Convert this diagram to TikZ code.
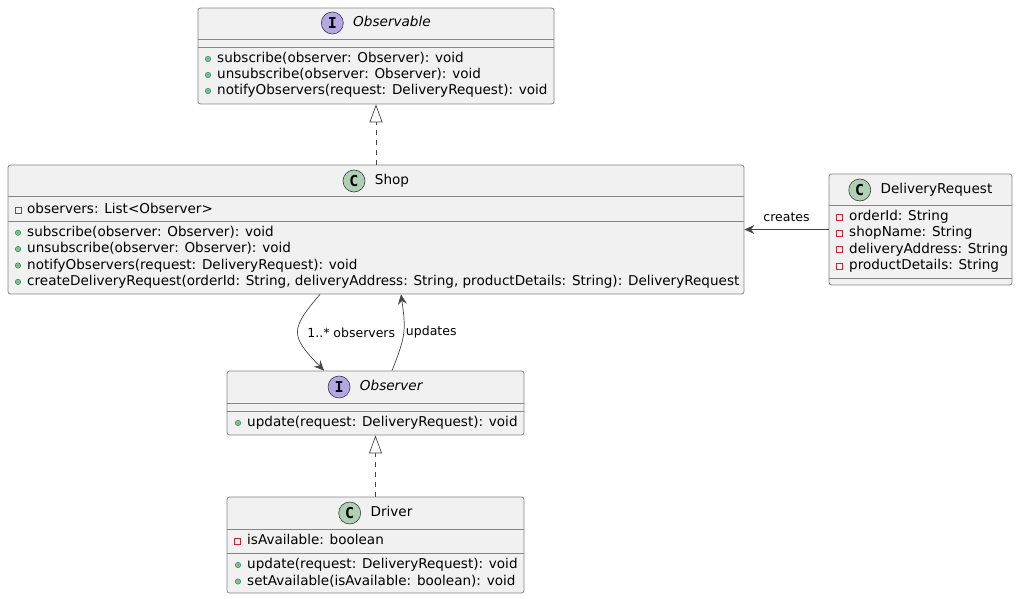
\documentclass[tikz,border=0pt]{standalone}
\usepackage{fontspec}
\setmainfont{DejaVu Sans}
\setmonofont{DejaVu Sans Mono}
\usetikzlibrary{arrows.meta,positioning}
\definecolor{classbg}{HTML}{F1F1F1}
\definecolor{classline}{HTML}{858585}
\definecolor{arrowline}{HTML}{454545}
\definecolor{badgeline}{HTML}{3A3A3A}
\definecolor{ifacefill}{HTML}{B4A7E5}
\definecolor{classfill}{HTML}{ADD1B2}
\definecolor{pubfill}{HTML}{84BE84}
\definecolor{publine}{HTML}{038048}
\definecolor{privline}{HTML}{C82930}
\begin{document}
\begin{tikzpicture}[x=1pt, y=-1pt,
  umlbox/.style = {draw=classline, fill=classbg, line width=0.8pt,
    rounded corners=2.5pt, inner sep=0pt},
  sepline/.style = {draw=classline, line width=0.8pt},
  title/.style = {inner sep=0pt, text height=10pt, text depth=3pt,
    font=\fontsize{13.6}{16}\selectfont},
  badge/.style = {circle, draw=badgeline, line width=0.6pt,
    minimum size=22pt, inner sep=0pt, right=0pt of #1.west,
    font=\fontsize{15}{16}\selectfont\ttfamily\bfseries},
  member/.style = {anchor=west, inner sep=0pt, text height=10pt,
    text depth=3pt, font=\fontsize{13.55}{16}\selectfont},
  pubmark/.style = {fill=pubfill, draw=publine, line width=0.4pt},
  privmark/.style = {draw=privline, line width=0.7pt},
  edgelabel/.style = {inner sep=0pt, font=\fontsize{12.5}{14}\selectfont},
  assoc/.style = {draw=arrowline, line width=0.7pt,
    -{Stealth[length=10pt, width=9pt, inset=3.5pt]}},
  realize/.style = {draw=arrowline, line width=0.7pt,
    dash pattern=on 5pt off 5pt,
    -{Triangle[length=18pt, width=13pt, fill=white]}}]
  \useasboundingbox (0,0) rectangle (1018,599);

  % Observable
  \node[umlbox, minimum width=356pt, minimum height=96pt] (obs) at (376,56) {};
  \node[title] (obs-t) at (376,23) {\hspace{32pt}\textit{Observable}};
  \node[badge=obs-t, fill=ifacefill] (obs-b) {I};
  \draw[sepline] (obs.west |- 0,39) -- (obs.east |- 0,39);
  \draw[sepline] (obs.west |- 0,47) -- (obs.east |- 0,47);
  \foreach \m [count=\i from 0] in {subscribe(observer: Observer): void,
      unsubscribe(observer: Observer): void,
      notifyObservers(request: DeliveryRequest): void} {
    \node[member] (obs-m\i) at (217,{59+16*\i}) {\m};
    \filldraw[pubmark] ([xshift=-9pt]obs-m\i.west) circle (2.7pt);
  }

  % Shop
  \node[umlbox, minimum width=736pt, minimum height=129pt] (shop) at (376,229.5) {};
  \node[title] (shop-t) at (376,181) {\hspace{32pt}Shop};
  \node[badge=shop-t, fill=classfill] (shop-b) {C};
  \draw[sepline] (shop.west |- 0,196) -- (shop.east |- 0,196);
  \draw[sepline] (shop.west |- 0,221) -- (shop.east |- 0,221);
  \node[member] (shop-f0) at (27,210) {observers: List<Observer>};
  \draw[privmark] ([xshift=-12pt,yshift=3pt]shop-f0.west) rectangle ++(6,6);
  \foreach \m [count=\i from 0] in {subscribe(observer: Observer): void,
      unsubscribe(observer: Observer): void,
      notifyObservers(request: DeliveryRequest): void,
      {createDeliveryRequest(orderId: String, deliveryAddress: String, productDetails: String): DeliveryRequest}} {
    \node[member] (shop-m\i) at (27,{232.7+16.4*\i}) {\m};
    \filldraw[pubmark] ([xshift=-9pt]shop-m\i.west) circle (2.7pt);
  }

  % DeliveryRequest
  \node[umlbox, minimum width=183pt, minimum height=111pt] (dr) at (920.5,229.5) {};
  \node[title] (dr-t) at (920.5,190) {\hspace{32pt}DeliveryRequest};
  \node[badge=dr-t, fill=classfill] (dr-b) {C};
  \draw[sepline] (dr.west |- 0,205) -- (dr.east |- 0,205);
  \draw[sepline] (dr.west |- 0,278) -- (dr.east |- 0,278);
  \foreach \m [count=\i from 0] in {orderId: String, shopName: String,
      deliveryAddress: String, productDetails: String} {
    \node[member] (dr-f\i) at (849,{217+16.4*\i}) {\m};
    \draw[privmark] ([xshift=-13pt,yshift=3pt]dr-f\i.west) rectangle ++(6,6);
  }

  % Observer
  \node[umlbox, minimum width=297pt, minimum height=64pt] (observer) at (375.5,403) {};
  \node[title] (observer-t) at (375.5,387) {\hspace{32pt}\textit{Observer}};
  \node[badge=observer-t, fill=ifacefill] (observer-b) {I};
  \draw[sepline] (observer.west |- 0,403) -- (observer.east |- 0,403);
  \draw[sepline] (observer.west |- 0,411.5) -- (observer.east |- 0,411.5);
  \node[member] (observer-m0) at (247,423) {update(request: DeliveryRequest): void};
  \filldraw[pubmark] ([xshift=-9pt]observer-m0.west) circle (2.7pt);

  % Driver
  \node[umlbox, minimum width=297pt, minimum height=96pt] (driver) at (375.5,545) {};
  \node[title] (driver-t) at (375.5,513) {\hspace{32pt}Driver};
  \node[badge=driver-t, fill=classfill] (driver-b) {C};
  \draw[sepline] (driver.west |- 0,529) -- (driver.east |- 0,529);
  \draw[sepline] (driver.west |- 0,553) -- (driver.east |- 0,553);
  \node[member] (driver-f0) at (247,541) {isAvailable: boolean};
  \draw[privmark] ([xshift=-13pt,yshift=3pt]driver-f0.west) rectangle ++(6,6);
  \foreach \m [count=\i from 0] in {update(request: DeliveryRequest): void,
      setAvailable(isAvailable: boolean): void} {
    \node[member] (driver-m\i) at (247,{565+16.5*\i}) {\m};
    \filldraw[pubmark] ([xshift=-9pt]driver-m\i.west) circle (2.7pt);
  }

  % relations
  \draw[realize] (shop.north) -- (obs.south);
  \draw[realize] (driver.north) -- (observer.south);
  \draw[assoc] (dr) -- node[edgelabel, above=7pt] (creates-l) {creates} (shop);
  \draw[assoc] ([xshift=-56pt]shop.south) .. controls +(-30,35) and +(-34,-35) ..
    node[edgelabel, right=9pt] (observers-l) {1..* observers} ([xshift=-51.5pt]observer.north);
  \draw[assoc] ([xshift=16.5pt]observer.north) .. controls +(14,-35) and +(5,35) ..
    node[edgelabel, right=2pt] (updates-l) {updates} ([xshift=25pt]shop.south);
\end{tikzpicture}
\end{document}
